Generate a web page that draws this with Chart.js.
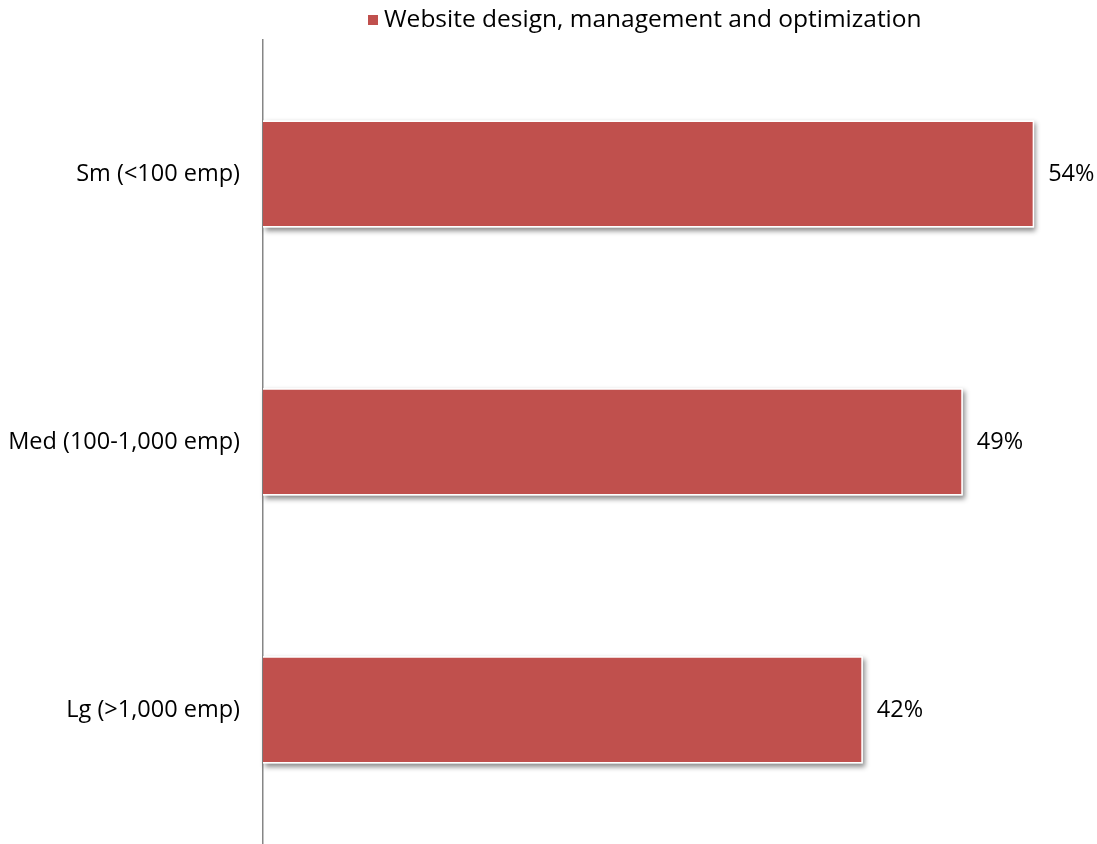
<!DOCTYPE html>
<html>
<head>
<meta charset="utf-8">
<script src="https://cdn.jsdelivr.net/npm/chart.js@4"></script>
<style>
  html, body { margin: 0; padding: 0; background: #fff; overflow: hidden; }
  #wrap { width: 1097px; height: 844px; overflow: hidden; }
  canvas { display: block; }
</style>
</head>
<body>
<div id="wrap"><canvas id="chart" width="1097" height="881"></canvas></div>
<script>
const categories = ['Sm (<100 emp)', 'Med (100-1,000 emp)', 'Lg (>1,000 emp)'];
const seriesName = 'Website design, management and optimization';
const seriesValues = [54, 49, 42];

const barColor = '#C0504D';
const fontFamily = '"Open Sans", sans-serif';
const labelSize = 23.5;
const legendSize = 24.5;

// soft drop shadow behind each bar (Excel style)
const barShadow = {
  id: 'barShadow',
  beforeDatasetsDraw(chart) {
    const ctx = chart.ctx;
    ctx.save();
    ctx.shadowColor = 'rgba(0,0,0,0.45)';
    ctx.shadowBlur = 5;
    ctx.shadowOffsetX = 2;
    ctx.shadowOffsetY = 3;
    ctx.fillStyle = '#fff';
    chart.getDatasetMeta(0).data.forEach(bar => {
      const p = bar.getProps(['x', 'y', 'base', 'height'], true);
      ctx.fillRect(p.base, p.y - p.height / 2, p.x - p.base, p.height);
    });
    ctx.restore();
  }
};

// percentage labels right of the bars
const valueLabels = {
  id: 'valueLabels',
  afterDatasetsDraw(chart) {
    const ctx = chart.ctx;
    ctx.save();
    ctx.font = labelSize + 'px ' + fontFamily;
    ctx.fillStyle = '#000';
    ctx.textAlign = 'left';
    ctx.textBaseline = 'middle';
    chart.getDatasetMeta(0).data.forEach((bar, i) => {
      ctx.fillText(seriesValues[i] + '%', bar.x + 14, bar.y);
    });
    ctx.restore();
  }
};

// legend drawn above the plot area
const topLegend = {
  id: 'topLegend',
  afterDraw(chart) {
    const ctx = chart.ctx;
    ctx.save();
    ctx.font = legendSize + 'px ' + fontFamily;
    ctx.fillStyle = barColor;
    ctx.fillRect(368, 15, 10, 10);
    ctx.fillStyle = '#000';
    ctx.textBaseline = 'middle';
    ctx.fillText(seriesName, 384, 20);
    ctx.restore();
  }
};

new Chart(document.getElementById('chart'), {
  type: 'bar',
  data: {
    labels: categories,
    datasets: [{
      label: seriesName,
      data: seriesValues,
      backgroundColor: barColor,
      borderColor: '#fff',
      borderWidth: 1.5,
      categoryPercentage: 1,
      barPercentage: 0.4
    }]
  },
  options: {
    indexAxis: 'y',
    responsive: false,
    animation: false,
    layout: { padding: { top: 40, right: 20, bottom: 0, left: 0 } },
    plugins: {
      legend: { display: false },
      tooltip: { enabled: false }
    },
    scales: {
      x: {
        display: false,
        min: 0,
        max: 57
      },
      y: {
        afterFit(scale) { scale.width = 263; },
        grid: { display: false, drawTicks: false },
        border: { display: true, color: '#868686', width: 1.5 },
        ticks: {
          padding: 23,
          color: '#000',
          font: { family: fontFamily, size: labelSize }
        }
      }
    }
  },
  plugins: [barShadow, valueLabels, topLegend]
});
</script>
</body>
</html>
